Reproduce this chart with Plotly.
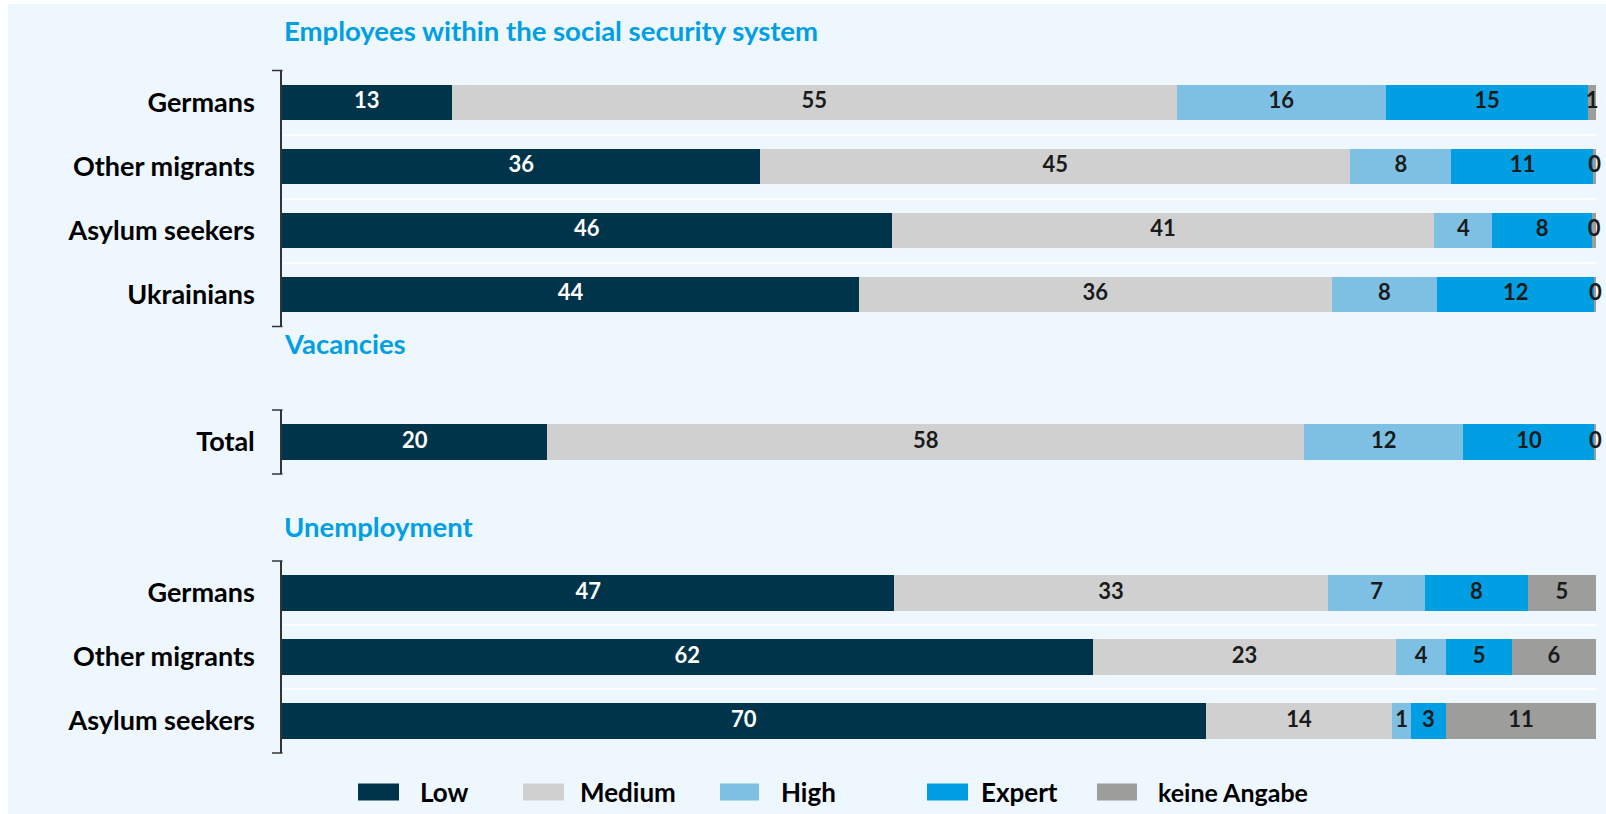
import plotly.graph_objects as go

# ---------------- data ----------------
series_names = ["Low", "Medium", "High", "Expert", "keine Angabe"]
series_colors = ["#00344B", "#D0D0D0", "#7DC0E3", "#009FE3", "#9D9D9B"]
label_colors = ["#FFFFFF", "#1A1A1A", "#1A1A1A", "#1A1A1A", "#1A1A1A"]

section_titles = ["Employees within the social security system", "Vacancies", "Unemployment"]

emp_categories = ["Germans", "Other migrants", "Asylum seekers", "Ukrainians"]
emp_low = [12.9, 36.4, 46.4, 43.9]
emp_medium = [55.2, 44.9, 41.3, 36.0]
emp_high = [15.9, 7.7, 4.4, 8.0]
emp_expert = [15.4, 10.8, 7.6, 12.0]
emp_na = [0.6, 0.2, 0.3, 0.1]

vac_categories = ["Total"]
vac_low = [20.2]
vac_medium = [57.6]
vac_high = [12.1]
vac_expert = [10.0]
vac_na = [0.1]

unemp_categories = ["Germans", "Other migrants", "Asylum seekers"]
unemp_low = [46.6, 61.7, 70.3]
unemp_medium = [33.0, 23.1, 14.2]
unemp_high = [7.4, 3.8, 1.4]
unemp_expert = [7.8, 5.0, 2.7]
unemp_na = [5.2, 6.4, 11.4]

sections = [
    (emp_categories, [emp_low, emp_medium, emp_high, emp_expert, emp_na]),
    (vac_categories, [vac_low, vac_medium, vac_high, vac_expert, vac_na]),
    (unemp_categories, [unemp_low, unemp_medium, unemp_high, unemp_expert, unemp_na]),
]

# ---------------- layout geometry (pixels) ----------------
W, H = 1606, 814
ML, MR = 282, 10
PW = W - ML - MR
section_px = [(70.5, 326.5), (410, 474), (561, 753)]   # top, bottom of each axis
title_px = [31, 344, 526]
BG = "#EEF6FE"
FONT = "Lato"

def py(v):
    return 1 - v / H

def px(v):
    return (v - ML) / PW

fig = go.Figure()

for si, (cats, vals) in enumerate(sections):
    xa = "x" if si == 0 else f"x{si+1}"
    ya = "y" if si == 0 else f"y{si+1}"
    cum = [0.0] * len(cats)
    for k, name in enumerate(series_names):
        v = vals[k]
        fig.add_trace(go.Bar(
            x=v, y=cats, orientation="h", name=name,
            marker=dict(color=series_colors[k], line=dict(width=0)),
            xaxis=xa, yaxis=ya, showlegend=False, hoverinfo="x+y+name",
        ))
        mids = [c + val / 2 for c, val in zip(cum, v)]
        fig.add_trace(go.Scatter(
            x=mids, y=cats, mode="text", text=[str(round(val)) for val in v],
            textposition="middle center",
            textfont=dict(family=FONT, size=22, color=label_colors[k], weight="bold"),
            xaxis=xa, yaxis=ya, showlegend=False, hoverinfo="skip", cliponaxis=False,
        ))
        cum = [c + val for c, val in zip(cum, v)]

layout = dict(
    width=W, height=H,
    margin=dict(l=ML, r=MR, t=0, b=0, pad=0),
    paper_bgcolor=BG, plot_bgcolor=BG,
    barmode="stack", bargap=0.45,
    showlegend=False,
    font=dict(family=FONT, color="#000000"),
)

shapes = []
annotations = []
for si, (cats, vals) in enumerate(sections):
    top, bot = section_px[si]
    xk = "xaxis" if si == 0 else f"xaxis{si+1}"
    yk = "yaxis" if si == 0 else f"yaxis{si+1}"
    ya = "y" if si == 0 else f"y{si+1}"
    layout[xk] = dict(domain=[0, 1], range=[0, 100], showgrid=False, zeroline=False,
                      showticklabels=False, showline=False, fixedrange=True,
                      anchor=ya)
    layout[yk] = dict(domain=[py(bot), py(top)], type="category", autorange="reversed",
                      showline=True, linecolor="#333333", linewidth=1.5,
                      tickson="boundaries", ticks="", showgrid=True,
                      gridcolor="#FFFFFF", gridwidth=2,
                      ticklabelstandoff=20,
                      tickfont=dict(family=FONT, size=27, color="#000000", weight="bold"),
                      anchor="x" if si == 0 else f"x{si+1}")
    # bracket end ticks
    for yy in (py(top), py(bot)):
        shapes.append(dict(type="line", xref="paper", yref="paper",
                           x0=px(272), x1=px(282.5), y0=yy, y1=yy,
                           line=dict(color="#333333", width=1.5)))
    annotations.append(dict(text=section_titles[si], xref="paper", yref="paper",
                            x=px(282), y=py(title_px[si]), xanchor="left", yanchor="middle",
                            showarrow=False,
                            font=dict(family=FONT, size=27.5, color="#009FE3", weight="bold")))

# white border strips at top and left
shapes.append(dict(type="rect", xref="paper", yref="paper", x0=px(0), x1=px(1606),
                   y0=py(4), y1=py(0), fillcolor="#FFFFFF", line=dict(width=0), layer="below"))
shapes.append(dict(type="rect", xref="paper", yref="paper", x0=px(0), x1=px(8),
                   y0=py(814), y1=py(0), fillcolor="#FFFFFF", line=dict(width=0), layer="below"))

# legend (manual, wide swatches)
legend_sw = [(358, 399), (523, 564), (720, 759), (927, 968), (1097, 1137)]
legend_tx = [418, 578, 779, 979, 1156]
legend_fs = [26, 26, 26, 26, 25]
LY = 792
for k, name in enumerate(series_names):
    x0, x1 = legend_sw[k]
    shapes.append(dict(type="rect", xref="paper", yref="paper", x0=px(x0), x1=px(x1),
                       y0=py(LY + 8.5), y1=py(LY - 8.5), fillcolor=series_colors[k],
                       line=dict(width=0)))
    annotations.append(dict(text=name, xref="paper", yref="paper", x=px(legend_tx[k]),
                            y=py(LY), xanchor="left", yanchor="middle", showarrow=False,
                            font=dict(family=FONT, size=legend_fs[k], color="#000000",
                                      weight="bold")))

layout["shapes"] = shapes
layout["annotations"] = annotations
fig.update_layout(**layout)

fig.write_html("out.html")
